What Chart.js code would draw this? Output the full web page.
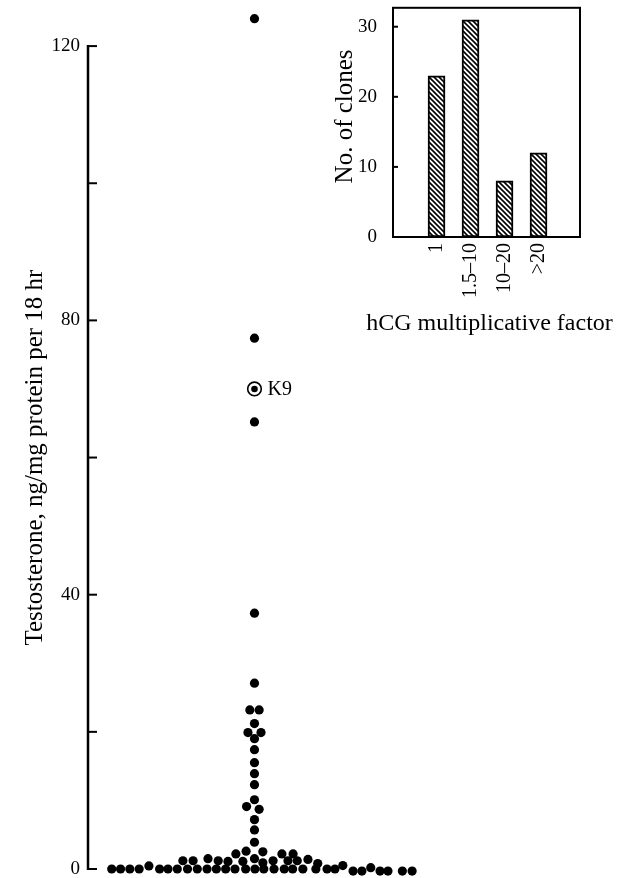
<!DOCTYPE html>
<html>
<head>
<meta charset="utf-8">
<script src="https://cdn.jsdelivr.net/npm/chart.js@4.4.0/dist/chart.umd.min.js"></script>
<style>
  body { margin: 0; background: #fff; overflow: hidden; }
  #wrap { position: relative; width: 630px; height: 878px; overflow: hidden; }
  #main { position: absolute; left: 0; top: 0; }
  #inset { position: absolute; left: 330px; top: -12px; }
</style>
</head>
<body>
<div id="wrap">
  <canvas id="main" width="630" height="889"></canvas>
  <canvas id="inset" width="300" height="352"></canvas>
</div>
<script>
// main scatter: one dot per clone, x = sideways offset (in dot widths), y = testosterone
var dotOffset = [
  0, 0, 0, 0, 0, -0.5, 0.5, 0, -0.7, 0.7, 0, 0, 0, 0, 0, 0, -0.85, 0.5, 0, 0, 0,
  -2.0, -0.9, 0.9, 2.95, 4.15,
  -7.7, -6.6, -5.0, -3.9, -2.85, -1.25, 0, 0.9, 2.0, 3.6, 4.6, 5.75, 6.8,
  -15.35, -14.4, -13.4, -12.4, -11.35, -10.2, -9.3, -8.3, -7.2, -6.15, -5.1, -4.1, -3.1, -2.1, -0.95, 0.05,
  1.0, 2.1, 3.2, 4.1, 5.2, 6.6, 7.8, 8.65, 9.5, 10.6, 11.55, 12.5, 13.5, 14.35, 15.9, 16.95
];
var dotValue = [
  124, 77.4, 65.2, 37.3, 27.1, 23.2, 23.2, 21.2, 19.9, 19.9, 19.0, 17.4, 15.5, 13.9, 12.3, 10.1, 9.1, 8.7, 7.2, 5.7, 3.9,
  2.2, 2.6, 2.5, 2.2, 2.2,
  1.2, 1.2, 1.5, 1.2, 1.1, 1.1, 1.5, 0.9, 1.2, 1.2, 1.2, 1.4, 0.8,
  0, 0, 0, 0, 0.45, 0, 0, 0, 0, 0, 0, 0, 0, 0, 0, 0,
  0, 0, 0, 0, 0, 0, 0, 0, 0.5, -0.3, -0.3, 0.2, -0.3, -0.3, -0.3, -0.3
];
var k9Offset = [0];
var k9Value = [70];
var k9Label = 'K9';
var yTicks = [0, 20, 40, 60, 80, 100, 120];
var yTitle = 'Testosterone, ng/mg protein per 18 hr';

// inset histogram
var binPos = [1, 2, 3, 4];
var binLabels = ['1', '1.5\u201310', '10\u201320', '>20'];
var binCounts = [23, 31, 8, 12];
var countTicks = [0, 10, 20, 30];
var insetXTitle = 'hCG multiplicative factor';
var insetYTitle = 'No. of clones';

var SERIF = "'Liberation Serif', 'Times New Roman', serif";
Chart.defaults.font.family = SERIF;
Chart.defaults.color = '#000';

function toPoints(xs, ys) {
  var pts = [];
  for (var i = 0; i < xs.length; i++) pts.push({x: xs[i], y: ys[i]});
  return pts;
}

function setTicks(list) {
  return function(s) { s.ticks = list.map(function(v) { return {value: v}; }); };
}

// short tick marks pointing into the plot (+ optional axis line)
var innerTicks = {
  id: 'innerTicks',
  afterDraw: function(chart, args, opts) {
    var ys = chart.scales.y;
    var ctx = chart.ctx;
    var x0 = chart.chartArea.left;
    ctx.save();
    ctx.strokeStyle = '#000';
    if (opts.axis) {
      ctx.lineWidth = 2.5;
      ctx.beginPath();
      ctx.moveTo(x0, ys.getPixelForValue(ys.ticks[0].value) + 1);
      ctx.lineTo(x0, ys.getPixelForValue(ys.ticks[ys.ticks.length - 1].value) - 1);
      ctx.stroke();
    }
    ctx.lineWidth = opts.width;
    ys.ticks.forEach(function(t) {
      if (opts.skipZero && t.value === 0) return;
      var py = ys.getPixelForValue(t.value);
      ctx.beginPath();
      ctx.moveTo(x0, py);
      ctx.lineTo(x0 + opts.length, py);
      ctx.stroke();
    });
    ctx.restore();
  }
};

// axis titles drawn at full width (no squeezing)
var titles = {
  id: 'titles',
  afterDraw: function(chart, args, opts) {
    var ctx = chart.ctx;
    var a = chart.chartArea;
    ctx.save();
    ctx.fillStyle = '#000';
    ctx.textAlign = 'center';
    ctx.textBaseline = 'middle';
    opts.items.forEach(function(it) {
      var p = it.at(chart, a);
      ctx.font = it.size + 'px ' + SERIF;
      ctx.save();
      ctx.translate(p[0], p[1]);
      if (it.vertical) ctx.rotate(-Math.PI / 2);
      ctx.fillText(it.text, 0, 0);
      ctx.restore();
    });
    ctx.restore();
  }
};

var k9Text = {
  id: 'k9Text',
  afterDatasetsDraw: function(chart) {
    var pt = chart.getDatasetMeta(1).data[0];
    var ctx = chart.ctx;
    ctx.save();
    ctx.font = '20px ' + SERIF;
    ctx.fillStyle = '#000';
    ctx.textBaseline = 'middle';
    ctx.fillText(k9Label, pt.x + 13, pt.y + 1);
    ctx.restore();
  }
};

var frame = {
  id: 'frame',
  afterDraw: function(chart) {
    var a = chart.chartArea;
    var ctx = chart.ctx;
    ctx.save();
    ctx.strokeStyle = '#000';
    ctx.lineWidth = 2;
    ctx.strokeRect(a.left, a.top, a.right - a.left, a.bottom - a.top);
    ctx.restore();
  }
};

new Chart(document.getElementById('main'), {
  type: 'scatter',
  data: {
    datasets: [
      {
        data: toPoints(dotOffset, dotValue),
        pointRadius: 4.6,
        pointBackgroundColor: '#000',
        pointBorderWidth: 0,
        clip: false
      },
      {
        data: toPoints(k9Offset, k9Value),
        pointRadius: 3.3,
        pointBackgroundColor: '#000',
        pointBorderWidth: 0,
        clip: false
      },
      {
        data: toPoints(k9Offset, k9Value),
        pointRadius: 6.8,
        pointBackgroundColor: '#fff',
        pointBorderColor: '#000',
        pointBorderWidth: 1.6,
        clip: false
      }
    ]
  },
  options: {
    responsive: false,
    animation: false,
    layout: { padding: { top: 0, bottom: 20, left: 0, right: 10 } },
    plugins: {
      legend: { display: false },
      tooltip: { enabled: false },
      innerTicks: { length: 9, width: 2, skipZero: false, axis: true },
      titles: {
        items: [{
          text: yTitle, size: 25, vertical: true,
          at: function(c, a) {
            var y = c.scales.y;
            return [a.left - 53, (y.getPixelForValue(yTicks[0]) + y.getPixelForValue(yTicks[yTicks.length - 1])) / 2];
          }
        }]
      }
    },
    scales: {
      x: { type: 'linear', display: false, min: -17.9, max: 39.3 },
      y: {
        min: 0,
        max: 125,
        afterFit: function(s) { s.width = 88; },
        afterBuildTicks: setTicks(yTicks),
        grid: { display: false, drawTicks: false },
        border: { display: false },
        ticks: {
          padding: 8,
          font: { size: 19, lineHeight: 0.4 },
          callback: function(v) { return v % 40 === 0 ? v : ''; }
        }
      }
    }
  },
  plugins: [innerTicks, k9Text, titles]
});

// diagonal hatch for the bars
var tile = document.createElement('canvas');
tile.width = 5; tile.height = 5;
var tc = tile.getContext('2d');
tc.fillStyle = '#fff';
tc.fillRect(0, 0, 5, 5);
tc.strokeStyle = '#000';
tc.lineWidth = 1.6;
tc.beginPath();
tc.moveTo(-1, -1); tc.lineTo(6, 6);
tc.moveTo(-1, 4); tc.lineTo(1, 6);
tc.moveTo(4, -1); tc.lineTo(6, 1);
tc.stroke();
var hatch = tc.createPattern(tile, 'repeat');

new Chart(document.getElementById('inset'), {
  type: 'bar',
  data: {
    datasets: [{
      data: toPoints(binPos, binCounts),
      backgroundColor: hatch,
      borderColor: '#000',
      borderWidth: 2,
      borderSkipped: false,
      barThickness: 17
    }]
  },
  options: {
    responsive: false,
    animation: false,
    layout: { padding: { top: 0, right: 50, left: 0, bottom: 0 } },
    plugins: {
      legend: { display: false },
      tooltip: { enabled: false },
      innerTicks: { length: 5, width: 2, skipZero: true, axis: false },
      titles: {
        items: [
          {
            text: insetXTitle, size: 24, vertical: false,
            at: function(c, a) { return [(a.left + a.right) / 2 + 3, a.bottom + 87]; }
          },
          {
            text: insetYTitle, size: 25, vertical: true,
            at: function(c, a) { return [a.left - 48, (a.top + a.bottom) / 2 - 6]; }
          }
        ]
      }
    },
    scales: {
      x: {
        type: 'linear',
        offset: false,
        min: -0.28,
        max: 5.22,
        afterFit: function(s) { s.height = 103; },
        afterBuildTicks: setTicks(binPos),
        grid: { display: false, drawTicks: false },
        border: { display: false },
        ticks: {
          autoSkip: false,
          minRotation: 90,
          maxRotation: 90,
          padding: 6,
          font: { size: 20 },
          callback: function(v) { return binLabels[binPos.indexOf(v)]; }
        }
      },
      y: {
        min: 0,
        max: 32.7,
        afterFit: function(s) { s.width = 63; },
        afterBuildTicks: setTicks(countTicks),
        grid: { display: false, drawTicks: false },
        border: { display: false },
        ticks: {
          autoSkip: false,
          padding: 16,
          font: { size: 19, lineHeight: 0.4 }
        }
      }
    }
  },
  plugins: [innerTicks, frame, titles]
});
</script>
</body>
</html>
